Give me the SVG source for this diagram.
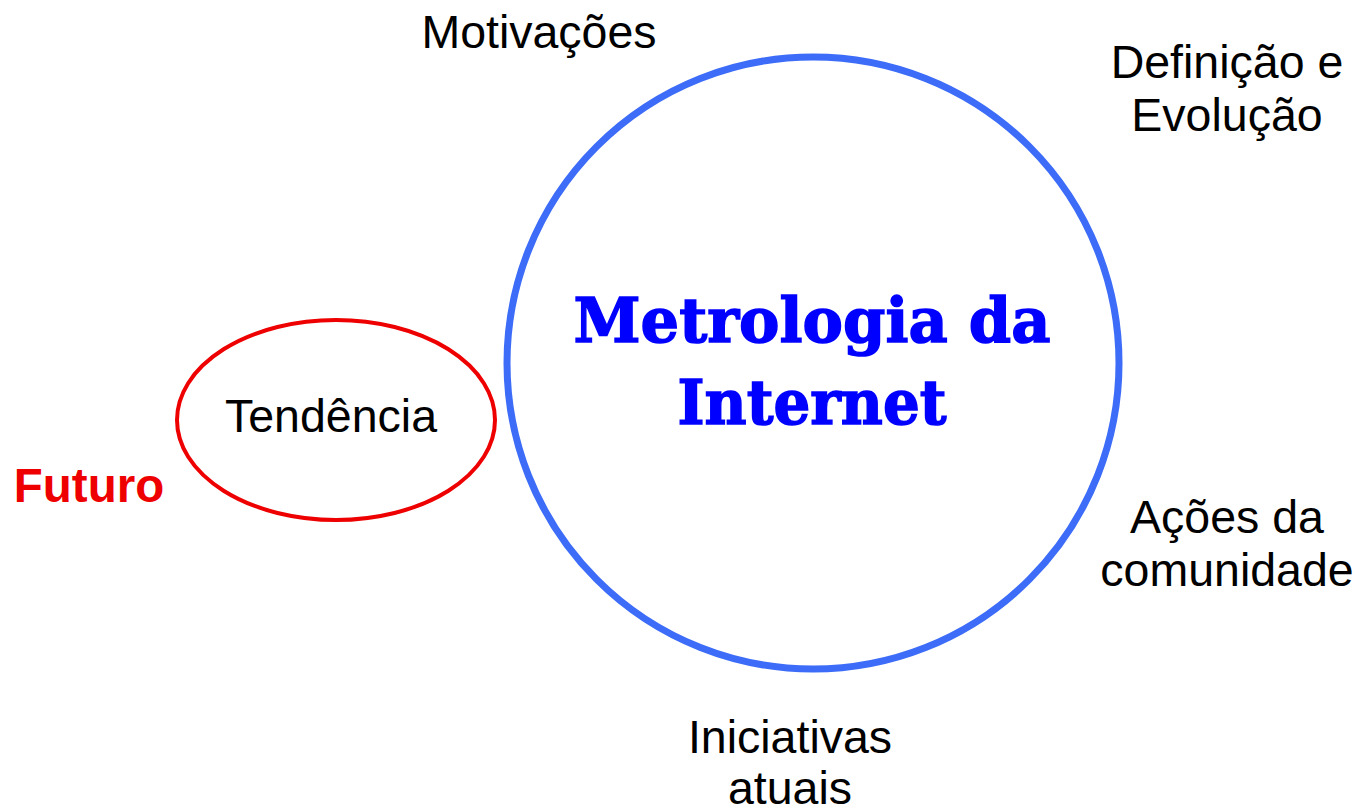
<svg xmlns="http://www.w3.org/2000/svg" width="1356" height="811" viewBox="0 0 1356 811">
<style>
.lbl{font-family:"Liberation Sans",Arial,sans-serif;font-size:46.5px;fill:#000;text-anchor:middle}
.title{font-family:"DejaVu Serif",serif;font-weight:bold;font-size:62px;fill:#0000ff;stroke:#0000ff;stroke-width:1.5;text-anchor:middle}
</style>
<rect width="1356" height="811" fill="#fff"/>
<g id="main">
<ellipse cx="813" cy="363" rx="306" ry="306" fill="none" stroke="#3c6cf8" stroke-width="7"/>
<text class="title" x="812" y="342" textLength="477" lengthAdjust="spacingAndGlyphs">Metrologia da</text>
<text class="title" x="812" y="424" textLength="269" lengthAdjust="spacingAndGlyphs">Internet</text>
</g>
<g id="tendencia">
<ellipse cx="336" cy="420" rx="159" ry="100" fill="none" stroke="#ee0000" stroke-width="4"/>
<text class="lbl" x="331" y="432">Tendência</text>
</g>
<g id="futuro"><text class="lbl" x="89" y="502" style="font-weight:bold;fill:#ee0000;font-size:47.5px">Futuro</text></g>
<g id="motivacoes"><text class="lbl" x="539" y="48">Motivações</text></g>
<g id="definicao"><text class="lbl" x="1227" y="78">Definição e</text><text class="lbl" x="1227" y="131">Evolução</text></g>
<g id="acoes"><text class="lbl" x="1227" y="533">Ações da</text><text class="lbl" x="1227" y="586">comunidade</text></g>
<g id="iniciativas"><text class="lbl" x="790" y="753">Iniciativas</text><text class="lbl" x="790" y="804">atuais</text></g>
<g id="connectors"></g>
</svg>
